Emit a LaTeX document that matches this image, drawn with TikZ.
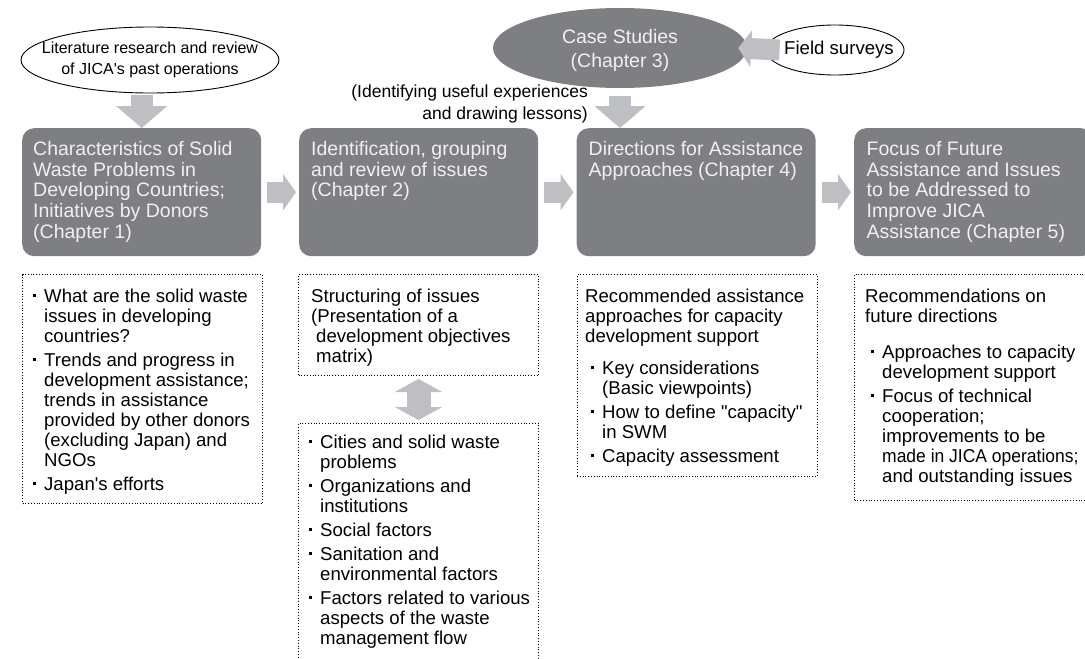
\documentclass[tikz,border=0pt]{standalone}
\usepackage{fontspec}
\setmainfont{Liberation Sans}
\usetikzlibrary{arrows.meta,shapes.geometric,calc}
\definecolor{boxgray}{RGB}{126,127,131}
\definecolor{arrgray}{RGB}{190,191,194}
\definecolor{boxtext}{RGB}{240,240,240}
\newcommand\bu{\llap{\raisebox{.3em}{\rule{2.6pt}{2.6pt}}\hspace{8.5pt}}}
\newcommand\apo{\XeTeXglyph\XeTeXcharglyph39\relax}
\newcommand\dq{\XeTeXglyph\XeTeXcharglyph34\relax}
\begin{document}
\begin{tikzpicture}[x=1pt,y=-1pt,
 chap/.style={fill=boxgray, rounded corners=12pt, minimum width=239pt, minimum height=128pt, anchor=north west, inner sep=0pt},
 chaptext/.style={anchor=north west, inner sep=0pt, text=boxtext, font=\fontsize{19.5}{20.8}\selectfont, align=left},
 dotbox/.style={draw, line width=1pt, dash pattern=on 1pt off 1.8pt, minimum width=240pt, anchor=north west, inner sep=0pt},
 txt/.style={anchor=north west, inner sep=0pt, font=\fontsize{18.6}{20}\selectfont},
 oval/.style={ellipse, draw, line width=0.9pt, inner sep=0pt},
 fat/.style={draw=arrgray, line width=21pt, -{Triangle[length=13pt,width=36pt]}},
 fatdown/.style={draw=arrgray, line width=22pt, -{Triangle[length=22pt,width=50pt]}},
 fatboth/.style={draw=arrgray, line width=24pt, {Triangle[length=13pt,width=47pt]}-{Triangle[length=13pt,width=47pt]}},
]
\useasboundingbox (0,0) rectangle (1085,659);

% top ovals
\node[oval, minimum width=258pt, minimum height=66pt] (lit) at (150,60) {};
\node[align=center, inner sep=0pt, font=\fontsize{16}{21.5}\selectfont] (littext) at (lit.center) {Literature research and review\\of JICA\apo s past operations};
\node[ellipse, fill=boxgray, inner sep=0pt, minimum width=254pt, minimum height=80pt] (case) at (620,48) {};
\node[align=center, inner sep=0pt, text=boxtext, font=\fontsize{19.5}{24}\selectfont] (casetext) at ([yshift=-2pt]case.center) {Case Studies\\(Chapter 3)};
\node[oval, minimum width=138pt, minimum height=50pt] (field) at (835,50) {};
\node[inner sep=0pt, font=\fontsize{18.6}{22}\selectfont] (fieldtext) at ([xshift=4pt]field.center) {Field surveys};
\node[anchor=north east, inner sep=0pt, align=right, font=\fontsize{17.5}{21.5}\selectfont] (note) at (588,85) {(Identifying useful experiences\\and drawing lessons)};

% chapter boxes
\node[chap] (b1) at (22,128) {};
\node[chap] (b2) at (299,128) {};
\node[chap] (b3) at (576.5,128) {};
\node[chap] (b4) at (854,128) {};
\node[chaptext] (t1) at (33,141) {Characteristics of Solid\\Waste Problems in\\Developing Countries;\\Initiatives by Donors\\(Chapter 1)};
\node[chaptext] (t2) at (311,141) {Identification, grouping\\and review of issues\\(Chapter 2)};
\node[chaptext] (t3) at (588.5,141) {Directions for Assistance\\Approaches (Chapter 4)};
\node[chaptext] (t4) at (866.5,141) {Focus of Future\\Assistance and Issues\\to be Addressed to\\Improve JICA\\Assistance (Chapter 5)};

% dotted boxes
\node[dotbox, minimum height=229pt] (d1) at (22,274) {};
\node[dotbox, minimum height=101pt] (d2) at (298,274) {};
\node[dotbox, minimum height=250pt] (d2b) at (298,423) {};
\node[dotbox, minimum height=202pt] (d3) at (576.5,274) {};
\node[dotbox, minimum height=226pt, minimum width=238pt] (d4) at (854,274) {};

\node[txt] (x1) at (44,288) {\begin{tabular}{@{}l@{}}
\bu What are the solid waste\\
issues in developing\\
countries?\\[4pt]
\bu Trends and progress in\\
development assistance;\\
trends in assistance\\
provided by other donors\\
(excluding Japan) and\\
NGOs\\[4pt]
\bu Japan\apo s efforts
\end{tabular}};

\node[txt] (x2) at (311,288) {\begin{tabular}{@{}l@{}}
Structuring of issues\\
(Presentation of a\\
\hspace{5pt}development objectives\\
\hspace{5pt}matrix)
\end{tabular}};

\node[txt] (x2b) at (320,434) {\begin{tabular}{@{}l@{}}
\bu Cities and solid waste\\
problems\\[4pt]
\bu Organizations and\\
institutions\\[4pt]
\bu Social factors\\[4pt]
\bu Sanitation and\\
environmental factors\\[4pt]
\bu Factors related to various\\
aspects of the waste\\
management flow
\end{tabular}};

\node[txt] (x3) at (585,288) {\begin{tabular}{@{}l@{}}
Recommended assistance\\
approaches for capacity\\
development support\\[12pt]
\hspace{17pt}\bu Key considerations\\
\hspace{17pt}(Basic viewpoints)\\[4pt]
\hspace{17pt}\bu How to define \dq capacity\dq\\
\hspace{17pt}in SWM\\[4pt]
\hspace{17pt}\bu Capacity assessment
\end{tabular}};

\node[txt] (x4) at (865,288) {\begin{tabular}{@{}l@{}}
Recommendations on\\
future directions\\[16pt]
\hspace{17pt}\bu Approaches to capacity\\
\hspace{17pt}development support\\[4pt]
\hspace{17pt}\bu Focus of technical\\
\hspace{17pt}cooperation;\\
\hspace{17pt}improvements to be\\
\hspace{17pt}\scalebox{0.94}[1]{made in JICA operations;}\\
\hspace{17pt}and outstanding issues
\end{tabular}};

% block arrows
\draw[fatdown] ([yshift=-2pt]b1.north |- lit.south) -- (b1.north);
\draw[fatdown] ([yshift=-8pt]case.south) -- (case.south |- b3.north);
\draw[fat] ([xshift=14pt]field.west) -- ([xshift=-9pt]case.east);
\draw[fat] ([xshift=6pt]b1.east) -- ([xshift=-3pt]b2.west);
\draw[fat] ([xshift=6pt]b2.east) -- ([xshift=-3pt]b3.west);
\draw[fat] ([xshift=6pt]b3.east) -- ([xshift=-3pt]b4.west);
\draw[fatboth] ([yshift=-3pt]d2.south) -- ([yshift=3pt]d2b.north);
\end{tikzpicture}
\end{document}
